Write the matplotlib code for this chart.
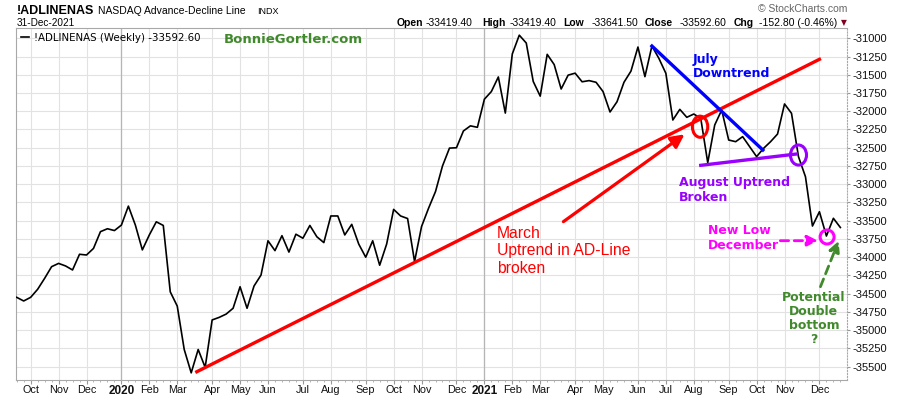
# NASDAQ advance-decline line, weekly, with trend annotations

import matplotlib.pyplot as plt
import pandas as pd
from matplotlib.patches import Ellipse

plt.rcParams['font.family'] = ['Liberation Sans', 'DejaVu Sans']

# weekly bars, dated by the Monday of each week
dates = pd.date_range('2019-09-23', periods=119, freq='W-MON')
adl = [-34550, -34600, -34550, -34440, -34290, -34130, -34085, -34120, -34175, -33960,
       -33970, -33880, -33650, -33610, -33635, -33560, -33300, -33560, -33900, -33695,
       -33515, -33565, -34475, -34670, -35265, -35585, -35265, -35510, -34860, -34825,
       -34780, -34700, -34405, -34700, -34395, -34245, -33775, -33910, -33705, -33930,
       -33685, -33740, -33565, -33720, -33800, -33435, -33435, -33695, -33550, -33820,
       -34000, -33775, -34110, -33820, -33345, -33435, -33470, -34060, -33580, -33330,
       -33100, -32750, -32505, -32500, -32270, -32200, -32220, -31835, -31730, -31530,
       -32025, -31215, -30957, -31065, -31592, -31793, -31220, -31360, -31695, -31505,
       -31478, -31596, -31580, -31603, -31730, -32010, -31870, -31603, -31450, -31120,
       -31526, -31106, -31275, -31480, -32120, -31974, -32083, -32038, -32097, -32705,
       -32188, -31983, -32394, -32417, -32348, -32485, -32622, -32508, -32417, -32312,
       -31900, -32028, -32623, -32897, -33573, -33377, -33710, -33467, -33593]

GREEN = '#408a2c'
PURPLE = '#9900ff'

fig = plt.figure(figsize=(9, 3.96), dpi=100)
ax = fig.add_axes([16/900, 1-380/396, (847-16)/900, (380-28)/396])

x = list(range(len(adl)))
line, = ax.plot(x, adl, color='black', lw=1.2, zorder=3)
ax.set_xlim(-0.1, 118.95)
ax.set_ylim(-35683, -30859)

# y axis on the right
ax.yaxis.tick_right()
ax.set_yticks(list(range(-35500, -30999, 250)))
ax.set_yticklabels([str(v) for v in range(-35500, -30999, 250)])
ax.tick_params(axis='y', length=2, pad=2, labelsize=8, colors='#999999', labelcolor='#111111')

# month ticks at the first bar of each month
ticks, labels = [], []
for i in range(1, len(dates)):
    if dates[i].month != dates[i-1].month:
        ticks.append(i)
        labels.append(str(dates[i].year) if dates[i].month == 1 else dates[i].strftime('%b'))
ax.set_xticks(ticks)
ax.set_xticklabels(labels)
ax.set_xticks(x, minor=True)
ax.tick_params(axis='x', length=3, pad=0.5, labelsize=7.8, colors='#999999', labelcolor='#111111')
ax.tick_params(axis='x', which='minor', length=1.5, colors='#aaaaaa')
for t, lab in zip(ticks, ax.get_xticklabels()):
    if lab.get_text().isdigit():
        lab.set_fontweight('bold')
        lab.set_fontsize(8.5)
        ax.axvline(t, color='#b5b5b5', lw=0.9, zorder=1)

ax.grid(True, color='#e2e2e2', lw=0.8, zorder=0)
ax.set_axisbelow(True)
for s in ax.spines.values():
    s.set_color('#a8a8a8')
    s.set_linewidth(0.8)
ax.spines['right'].set_linestyle(':')

ax.legend([line], ['!ADLINENAS (Weekly) -33592.60'], loc='upper left', frameon=False,
          prop={'family': 'DejaVu Sans', 'size': 7.4}, handlelength=0.8,
          handletextpad=0.5, borderaxespad=0.25, borderpad=0.2)

ax.text(29.7, -31016, 'BonnieGortler.com', color=GREEN, fontsize=9.5, fontweight='bold',
        family='DejaVu Sans', va='center', ha='left')

# March uptrend
ax.plot([25.8, 115.0], [-35570, -31288], color='#ff0000', lw=2.4, zorder=4)
ax.annotate('', xy=(96.0, -32294), xytext=(78.0, -33535),
            arrowprops=dict(arrowstyle='-|>', color='#ff0000', lw=2.3, mutation_scale=20), zorder=4)
ax.add_patch(Ellipse((97.9, -32212), 2.2, 290, fill=False, ec='#ff0000', lw=2.2, zorder=5))
ax.text(68.8, -33570, 'March\nUptrend in AD-Line\nbroken', color='#ff0000', fontsize=11.3,
        va='top', ha='left', linespacing=1.2)

# July downtrend
ax.plot([91.0, 106.9], [-31106, -32531], color='#0000ff', lw=2.4, zorder=4,
        solid_capstyle='projecting')
ax.text(96.9, -31200, 'July\nDowntrend', color='#0000ff', fontsize=9, fontweight='bold',
        family='DejaVu Sans', va='top', ha='left', linespacing=1.15)

# August uptrend
ax.plot([98.0, 111.7], [-32741, -32586], color=PURPLE, lw=2.4, zorder=4)
ax.add_patch(Ellipse((112.0, -32600), 2.3, 275, fill=False, ec=PURPLE, lw=2.2, zorder=5))
ax.text(94.9, -32890, 'August Uptrend\nBroken', color=PURPLE, fontsize=9, fontweight='bold',
        family='DejaVu Sans', va='top', ha='left', linespacing=1.15)

# December low
ax.annotate('', xy=(115.2, -33774), xytext=(109.0, -33774),
            arrowprops=dict(arrowstyle='-|>', color='#ff00ff', lw=2.0, ls=(0, (3, 2)),
                            mutation_scale=16), zorder=4)
ax.add_patch(Ellipse((116.1, -33723), 2.0, 192, fill=False, ec='#ff00ff', lw=2.2, zorder=5))
ax.text(99.0, -33550, 'New Low\nDecember', color='#ff00ff', fontsize=9, fontweight='bold',
        family='DejaVu Sans', va='top', ha='left', linespacing=1.15)

# double bottom
ax.annotate('', xy=(117.9, -33741), xytext=(115.0, -34440),
            arrowprops=dict(arrowstyle='-|>', color=GREEN, lw=2.0, ls=(0, (3, 2)),
                            mutation_scale=16), zorder=4)
ax.text(114.2, -34470, 'Potential\nDouble\nbottom\n?', color=GREEN, fontsize=9, fontweight='bold',
        family='DejaVu Sans', va='top', ha='center', linespacing=1.1)

# header
def ftext(px, py, s, **kw):
    fig.text(px/900, 1 - py/396, s, va='baseline', **kw)

ftext(16.7, 14, '!ADLINENAS', fontsize=9, fontweight='bold')
ftext(97.7, 14, 'NASDAQ Advance-Decline Line', fontsize=7.5)
ftext(256.7, 14, 'INDX', fontsize=6.5)
ftext(16.7, 25.5, '31-Dec-2021', fontsize=7.2)
ftext(847, 11.7, '\u00a9 StockCharts.com', fontsize=7.5, color='#666666', ha='right')

quote = [(396.7, 'Open', 'bold'), (426, '-33419.40', 'normal'),
         (482.7, 'High', 'bold'), (510, '-33419.40', 'normal'),
         (563.3, 'Low', 'bold'), (591.7, '-33641.50', 'normal'),
         (645, 'Close', 'bold'), (679.3, '-33592.60', 'normal'),
         (734, 'Chg', 'bold'), (759.3, '-152.80 (-0.46%)', 'normal')]
for px, s, w in quote:
    ftext(px, 25.5, s, fontsize=7.5, fontweight=w)
ftext(840.5, 25, '\u25bc', fontsize=5.5, color='#800020', family='DejaVu Sans')

fig.savefig('out.png', dpi=100)
